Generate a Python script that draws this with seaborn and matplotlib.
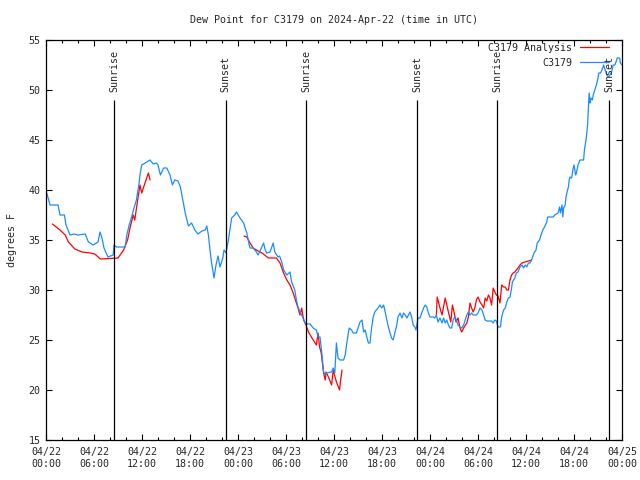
import numpy as np
import pandas as pd
import matplotlib
matplotlib.use("Agg")
import matplotlib.pyplot as plt
import matplotlib.dates as mdates
import seaborn as sns

# hours after 2024-04-22 00:00 UTC
obs_hours = [0.1, 0.5, 1.5, 1.75, 2.3, 2.5, 3.0, 3.5, 4.0, 4.9, 5.3, 5.9, 6.5, 6.75, 7.0, 7.25,
             7.75, 8.4, 8.5, 8.8, 9.9, 10.1, 10.4, 10.7, 11.0, 11.3, 11.6, 11.75, 11.96, 12.2,
             12.6, 13.0, 13.4, 13.8, 14.0, 14.3, 14.7, 15.1, 15.5, 15.8, 16.1, 16.5, 16.8, 17.1,
             17.4, 17.8, 18.2, 18.6, 19.0, 19.5, 19.9, 20.1, 20.3, 20.5, 20.7, 21.0, 21.25, 21.5,
             21.75, 22.1, 22.25, 22.5, 22.8, 23.2, 23.6, 23.8, 24.25, 24.7, 25.1, 25.4, 25.5,
             25.9, 26.3, 26.5, 26.7, 27.2, 27.4, 27.6, 28.0, 28.4, 28.6, 29.0, 29.2, 29.5, 29.7,
             30.1, 30.5, 30.7, 31.1, 31.3, 31.5, 31.75, 31.96, 32.2, 32.4, 32.7, 33.0, 33.4,
             33.8, 34.0, 34.25, 34.5, 34.7, 34.9, 35.1, 35.7, 35.9, 36.1, 36.3, 36.5, 36.75,
             37.2, 37.4, 37.6, 37.9, 38.2, 38.4, 38.8, 39.0, 39.25, 39.5, 39.7, 39.9, 40.1, 40.3,
             40.5, 40.7, 40.9, 41.1, 41.3, 41.5, 41.75, 41.96, 42.2, 42.4, 42.6, 42.8, 43.0,
             43.2, 43.4, 43.6, 43.8, 44.0, 44.25, 44.5, 44.7, 44.9, 45.1, 45.3, 45.5, 45.7,
             45.9, 46.1, 46.25, 46.5, 46.75, 46.96, 47.2, 47.4, 47.6, 47.8, 48.0, 48.4, 48.6,
             48.8, 49.0, 49.25, 49.5, 49.7, 49.9, 50.1, 50.3, 50.5, 50.7, 50.9, 51.1, 51.3,
             51.5, 51.75, 51.96, 52.2, 52.4, 52.6, 52.8, 53.0, 53.2, 53.4, 53.8, 54.0, 54.25,
             54.5, 54.7, 54.9, 55.1, 55.7, 55.9, 56.1, 56.3, 56.5, 56.8, 56.96, 57.2, 57.4,
             57.6, 57.8, 58.0, 58.2, 58.3, 58.6, 58.8, 59.0, 59.25, 59.5, 59.7, 59.9, 60.1,
             60.3, 60.5, 60.7, 61.0, 61.25, 61.4, 61.7, 61.8, 62.1, 62.25, 62.6, 62.7, 63.4,
             63.6, 64.0, 64.2, 64.3, 64.5, 64.6, 64.7, 64.9, 65.0, 65.2, 65.3, 65.4, 65.5,
             65.7, 65.9, 66.0, 66.2, 66.3, 66.5, 66.75, 67.2, 67.3, 67.5, 67.6, 67.7, 67.8,
             67.9, 68.0, 68.1, 68.3, 68.4, 68.6, 68.8, 69.0, 69.1, 69.3, 69.5, 69.7, 69.9,
             70.1, 70.3, 70.5, 70.7, 70.9, 71.1, 71.25, 71.4, 71.7, 71.8, 72.0]
obs_dewpt = [39.7, 38.5, 38.5, 37.5, 37.5, 36.5, 35.5, 35.6, 35.5, 35.6, 34.8, 34.5, 34.8, 35.8,
             35.2, 34.2, 33.3, 33.5, 34.5, 34.3, 34.3, 35.5, 36.5, 37.3, 38.2, 39.0, 40.5, 41.5,
             42.5, 42.6, 42.8, 43.0, 42.6, 42.7, 42.5, 41.5, 42.2, 42.2, 41.5, 40.5, 41.0, 40.9,
             40.3, 39.0, 37.7, 36.4, 36.7, 36.0, 35.6, 35.9, 36.0, 36.4, 35.5, 34.0, 32.7, 31.2,
             32.5, 33.4, 32.3, 33.2, 34.0, 33.7, 35.0, 37.2, 37.5, 37.8, 37.2, 36.7, 35.7, 34.5,
             34.2, 34.2, 33.8, 33.5, 33.8, 34.7, 34.0, 33.7, 33.8, 34.7, 33.8, 33.3, 33.4, 32.7,
             32.0, 31.5, 31.8, 30.8, 30.0, 29.0, 28.3, 27.8, 27.5, 27.1, 26.7, 26.6, 26.6, 26.2,
             26.0, 25.3, 25.3, 23.5, 21.8, 21.5, 21.7, 21.8, 22.2, 21.7, 24.7, 23.2, 23.0, 23.0,
             23.5, 24.7, 26.2, 26.0, 25.7, 25.7, 26.2, 26.8, 27.0, 25.8, 26.0, 25.3, 24.7, 24.7,
             26.2, 27.3, 27.8, 28.0, 28.2, 28.5, 28.2, 28.5, 27.8, 27.0, 26.3, 25.7, 25.2, 25.0,
             25.7, 26.3, 27.3, 27.7, 27.2, 27.7, 27.5, 27.2, 27.5, 27.8, 27.3, 26.5, 26.3, 26.0,
             27.2, 27.2, 27.7, 28.2, 28.5, 28.3, 27.7, 27.3, 27.3, 27.2, 27.5, 26.8, 27.2, 26.7,
             27.2, 26.7, 27.0, 26.5, 26.2, 26.2, 27.0, 27.3, 27.0, 26.5, 26.3, 26.2, 26.5, 27.0,
             27.5, 27.8, 27.5, 27.7, 27.5, 27.5, 27.7, 28.2, 28.0, 27.5, 27.0, 26.9, 26.9, 26.7,
             27.0, 26.9, 26.3, 26.3, 27.3, 28.0, 28.2, 28.8, 29.2, 29.3, 30.2, 30.8, 31.2, 31.7,
             31.8, 32.3, 32.5, 32.2, 32.5, 32.3, 32.7, 32.7, 33.0, 33.7, 34.0, 34.7, 35.0, 35.3,
             36.0, 36.2, 36.8, 37.3, 37.3, 37.5, 37.7, 38.3, 37.7, 38.5, 37.3, 38.2, 38.5, 39.3,
             40.0, 40.3, 41.0, 41.3, 41.2, 42.2, 42.5, 41.5, 41.7, 42.5, 43.0, 43.0, 44.0, 45.0,
             45.7, 46.5, 48.3, 49.7, 48.7, 49.2, 49.0, 49.5, 50.0, 50.5, 51.2, 51.7, 51.7, 52.0,
             52.5, 52.0, 51.5, 51.3, 51.5, 51.8, 52.5, 52.5, 52.8, 53.2, 53.2, 52.7, 52.5]

anl_hours = [0.8, 1.75, 2.4, 2.8, 3.6, 4.5, 5.5, 6.1, 6.8, 9.0, 9.7, 10.2, 10.5, 10.9, 11.1, 11.4,
             11.75, 11.96, 12.5, 12.8, 13.0,
             24.75, 25.1, 25.5, 25.9, 26.3, 27.0, 27.8, 28.8, 29.25, 29.7, 30.1, 30.5, 30.9,
             31.3, 31.5, 31.75, 31.96, 32.2, 32.5, 32.8, 33.4, 33.8, 34.0, 34.2, 34.4, 34.7,
             34.9, 35.0, 35.3, 35.7, 35.9, 36.3, 36.7, 36.8, 37.0,
             48.8, 48.9, 49.25, 49.5, 49.9, 50.1, 50.3, 50.6, 50.8, 51.0, 51.25, 51.5, 51.75,
             51.96, 52.2, 52.6, 52.8, 53.0, 53.2, 53.4, 53.6, 53.8, 54.0, 54.25, 54.5, 54.7,
             54.9, 55.1, 55.3, 55.5, 55.7, 55.9, 56.1, 56.3, 56.5, 56.75, 56.96, 57.2, 57.4,
             57.6, 57.8, 58.0, 58.2, 58.4, 58.6, 58.8, 59.0, 59.25, 59.5, 59.9, 60.3, 60.7]
anl_dewpt = [36.6, 36.0, 35.5, 34.8, 34.1, 33.8, 33.7, 33.6, 33.1, 33.2, 34.0, 35.0, 36.2, 37.5,
             37.0, 38.7, 40.5, 39.7, 41.0, 41.7, 41.0,
             35.4, 35.3, 34.7, 34.2, 34.0, 33.7, 33.2, 33.2, 32.7, 31.7, 31.0, 30.5, 29.7, 28.7,
             28.2, 27.5, 28.2, 27.0, 26.5, 25.8, 25.0, 24.5, 25.7, 24.3, 23.7, 21.7, 21.0, 21.8,
             21.3, 20.5, 22.0, 20.8, 20.0, 20.8, 22.0,
             27.5, 29.3, 28.2, 27.5, 29.2, 28.5, 27.8, 26.8, 28.5, 27.8, 26.8, 27.2, 26.2, 25.8,
             26.2, 26.7, 27.3, 28.7, 28.2, 27.8, 28.2, 29.0, 29.3, 28.8, 28.5, 28.2, 29.2, 28.9,
             29.5, 29.2, 28.5, 30.2, 29.8, 29.5, 29.4, 28.7, 30.5, 30.3, 30.3, 30.0, 30.0, 31.0,
             31.5, 31.7, 31.8, 32.0, 32.2, 32.5, 32.7, 32.8, 32.9, 33.0]

sun_hours = [8.55, 22.45, 32.55, 46.4, 56.4, 70.4]
sun_labels = ["Sunrise", "Sunset", "Sunrise", "Sunset", "Sunrise", "Sunset"]

START = pd.Timestamp("2024-04-22 00:00")
BLUE = "#1a8cff"
FONT = ["DejaVu Sans Mono"]

obs = pd.DataFrame({"time": START + pd.to_timedelta(obs_hours, unit="h"), "dewpt": obs_dewpt})
obs["seg"] = 0
anl = pd.DataFrame({"time": START + pd.to_timedelta(anl_hours, unit="h"), "dewpt": anl_dewpt})
# analysis has gaps, split into separate segments
anl["seg"] = (pd.Series(anl_hours).diff() > 3).cumsum()

sns.set_style("ticks")
plt.rcParams["font.family"] = FONT
plt.rcParams["font.size"] = 7.2

fig = plt.figure(figsize=(6.4, 4.8), dpi=100)
ax = fig.add_axes([46 / 640, 40 / 480, 576 / 640, 400 / 480])

sns.lineplot(data=anl, x="time", y="dewpt", units="seg", estimator=None, color="red",
             linewidth=0.9, label="C3179 Analysis", ax=ax)
sns.lineplot(data=obs, x="time", y="dewpt", units="seg", estimator=None, color=BLUE,
             linewidth=0.9, label="C3179", ax=ax)

sun_times = START + pd.to_timedelta(sun_hours, unit="h")
for t, lab in zip(sun_times, sun_labels):
    ax.vlines(t, 15, 49.0, color="black", linewidth=0.9)
    ax.text(t, 49.8, lab, rotation=90, ha="center", va="bottom", fontsize=7.2)

ax.set_xlim(START, START + pd.Timedelta(hours=72))
ax.set_ylim(15, 55)
ax.set_yticks(range(15, 56, 5))
ax.xaxis.set_major_locator(mdates.HourLocator(byhour=[0, 6, 12, 18]))
ax.xaxis.set_minor_locator(mdates.HourLocator(byhour=range(0, 24, 2)))
ax.xaxis.set_major_formatter(mdates.DateFormatter("%m/%d\n%H:%M"))
ax.tick_params(which="both", direction="in", top=True, right=True, color="black",
               labelsize=7.2, width=0.8)
ax.tick_params(which="major", length=4.5)
ax.tick_params(which="minor", length=2.5)
ax.tick_params(axis="x", pad=5)
ax.tick_params(axis="y", pad=4)
for s in ax.spines.values():
    s.set_color("black")
    s.set_linewidth(0.9)

ax.set_xlabel("")
ax.set_ylabel("degrees F", fontsize=7.2, labelpad=8)
ax.set_title("Dew Point for C3179 on 2024-Apr-22 (time in UTC)", fontsize=7.2, pad=12)

handles, labels = ax.get_legend_handles_labels()
uniq = dict(zip(labels, handles))
ax.legend(uniq.values(), uniq.keys(), loc="upper right", bbox_to_anchor=(0.978, 0.993),
          frameon=False, markerfirst=False, fontsize=7.2, handlelength=2.9,
          handletextpad=0.8, labelspacing=0.5, borderpad=0, borderaxespad=0)

fig.savefig("out.png", dpi=100)
